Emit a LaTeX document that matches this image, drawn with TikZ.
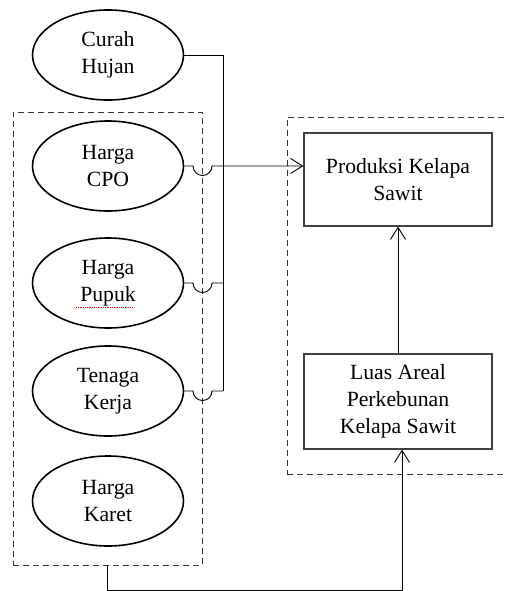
\documentclass[tikz,border=0pt]{standalone}
\usepackage{fontspec}
\setmainfont{Liberation Serif}
\usetikzlibrary{arrows.meta,shapes.geometric}

\tikzset{
  faktor/.style={ellipse, draw, line width=1.6pt, minimum width=151pt, minimum height=90pt,
    inner sep=0pt, align=center, font=\fontsize{21.7}{27}\selectfont},
  kotak/.style={rectangle, draw=black!75, line width=1.2pt, minimum width=188pt,
    inner sep=0pt, align=center, font=\fontsize{21.7}{27}\selectfont},
  grup/.style={rectangle, draw=black!80, dash pattern=on 6pt off 4pt, line width=0.9pt,
    inner sep=0pt},
  garis/.style={line width=0.9pt},
  panah/.style={garis, -{Straight Barb[length=12pt,width=15pt]}},
}

\begin{document}
\begin{tikzpicture}[x=1pt,y=-1pt]
\clip (0,0) rectangle (504,591);

% kelompok bergaris putus
\node[grup, minimum width=189pt, minimum height=453pt] (kiri) at (107.5,338.5) {};
\node[grup, minimum width=240pt, minimum height=357pt] (kanan) at (407,295.5) {};

% faktor
\node[faktor] (hujan) at (108,55) {Curah\\Hujan};
\node[faktor] (cpo) at (108,166) {Harga\\CPO};
\node[faktor] (pupuk) at (108,283) {Harga\\Pupuk};
\node[faktor] (tenaga) at (108,391) {Tenaga\\Kerja};
\node[faktor] (karet) at (108,501) {Harga\\Karet};
\draw[red, densely dotted, line width=0.8pt] (76,307) -- (132,307);

\node[kotak, minimum height=93pt] (produksi) at (398,179.5) {Produksi Kelapa\\Sawit};
\node[kotak, minimum height=95pt] (luas) at (398,401.5) {Luas Areal\\Perkebunan\\Kelapa Sawit};

\coordinate (bus) at (223,391);
\coordinate (bawah) at (402,590);

\draw[garis] (hujan.east) -| (bus);
\draw[panah] (cpo.east) -- (193,166) arc[start angle=180, end angle=360, radius=9.5pt] -- (produksi.west |- cpo.east);
\draw[garis] (pupuk.east) -- (193,283) arc[start angle=180, end angle=360, radius=9.5pt] -- (bus |- pupuk.east);
\draw[garis] (tenaga.east) -- (193,391) arc[start angle=180, end angle=360, radius=9.5pt] -- (bus);

\draw[panah] (luas.north) -- (produksi.south);
\draw[panah] (kiri.south) |- (bawah) -- ([xshift=4pt]luas.south);

\end{tikzpicture}
\end{document}
